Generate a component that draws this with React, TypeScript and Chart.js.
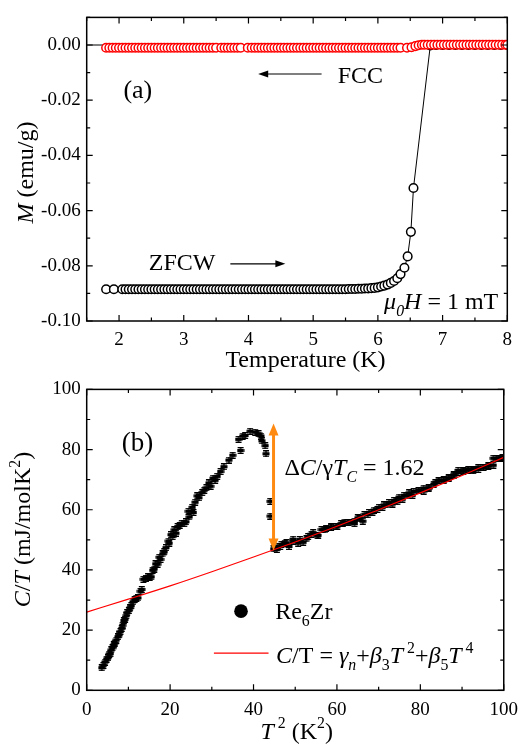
import React, { useEffect, useRef } from 'react';
import { Chart, registerables } from 'chart.js';
Chart.register(...registerables);

const FONT = '"Liberation Serif", "Times New Roman", serif';

// ---------- Panel (a): M vs T ----------
const FCC_T = [
  1.80, 1.85, 1.90, 1.95, 2.00, 2.05, 2.10, 2.15, 2.20, 2.25,
  2.30, 2.35, 2.40, 2.45, 2.50, 2.55, 2.60, 2.65, 2.70, 2.75,
  2.80, 2.85, 2.90, 2.95, 3.00, 3.05, 3.10, 3.15, 3.20, 3.25,
  3.30, 3.35, 3.40, 3.45, 3.50, 3.58, 3.63, 3.68, 3.73, 3.78,
  3.83, 3.88, 3.99, 4.05, 4.10, 4.15, 4.20, 4.25, 4.30, 4.35,
  4.40, 4.45, 4.50, 4.55, 4.60, 4.65, 4.70, 4.75, 4.80, 4.85,
  4.90, 4.95, 5.00, 5.05, 5.10, 5.15, 5.20, 5.25, 5.30, 5.35,
  5.40, 5.45, 5.50, 5.55, 5.60, 5.65, 5.70, 5.75, 5.80, 5.85,
  5.90, 5.95, 6.00, 6.05, 6.10, 6.15, 6.20, 6.25, 6.30, 6.35,
  6.45, 6.52, 6.58, 6.63, 6.68, 6.72, 6.77, 6.82, 6.87, 6.92,
  6.97, 7.02, 7.07, 7.12, 7.17, 7.22, 7.27, 7.32, 7.37, 7.42,
  7.47, 7.52, 7.57, 7.62, 7.67, 7.72, 7.77, 7.82, 7.87, 7.92,
  7.97, 8.00,
];
const FCC_M = [
  -0.0010, -0.0010, -0.0010, -0.0010, -0.0010, -0.0010, -0.0010, -0.0010, -0.0010, -0.0010,
  -0.0010, -0.0010, -0.0010, -0.0010, -0.0010, -0.0010, -0.0010, -0.0010, -0.0010, -0.0010,
  -0.0010, -0.0010, -0.0010, -0.0010, -0.0010, -0.0010, -0.0010, -0.0010, -0.0010, -0.0010,
  -0.0010, -0.0010, -0.0010, -0.0010, -0.0010, -0.0010, -0.0010, -0.0010, -0.0010, -0.0010,
  -0.0010, -0.0010, -0.0010, -0.0010, -0.0010, -0.0010, -0.0010, -0.0010, -0.0010, -0.0010,
  -0.0010, -0.0010, -0.0010, -0.0010, -0.0010, -0.0010, -0.0010, -0.0010, -0.0010, -0.0010,
  -0.0010, -0.0010, -0.0010, -0.0010, -0.0010, -0.0010, -0.0010, -0.0010, -0.0010, -0.0010,
  -0.0010, -0.0010, -0.0010, -0.0010, -0.0010, -0.0010, -0.0010, -0.0010, -0.0010, -0.0010,
  -0.0010, -0.0010, -0.0010, -0.0010, -0.0010, -0.0010, -0.0010, -0.0010, -0.0010, -0.0010,
  -0.0010, -0.0008, -0.0004, -0.0001, 0.0001, 0.0001, 0.0001, 0.0001, 0.0001, 0.0001,
  0.0001, 0.0001, 0.0001, 0.0001, 0.0001, 0.0001, 0.0001, 0.0001, 0.0001, 0.0001,
  0.0001, 0.0001, 0.0001, 0.0001, 0.0001, 0.0001, 0.0001, 0.0001, 0.0001, 0.0001,
  0.0001, 0.0001,
];
const ZFCW_T = [
  1.80, 1.92, 2.05, 2.10, 2.15, 2.20, 2.25, 2.30, 2.35, 2.40,
  2.45, 2.50, 2.55, 2.60, 2.65, 2.70, 2.75, 2.80, 2.85, 2.90,
  2.95, 3.00, 3.05, 3.10, 3.15, 3.20, 3.25, 3.30, 3.35, 3.40,
  3.45, 3.50, 3.55, 3.60, 3.65, 3.70, 3.75, 3.80, 3.85, 3.90,
  3.95, 4.00, 4.05, 4.10, 4.15, 4.20, 4.25, 4.30, 4.35, 4.40,
  4.45, 4.50, 4.55, 4.60, 4.65, 4.70, 4.75, 4.80, 4.85, 4.90,
  4.95, 5.00, 5.05, 5.10, 5.15, 5.20, 5.25, 5.30, 5.35, 5.40,
  5.45, 5.50, 5.55, 5.60, 5.65, 5.70, 5.75, 5.80, 5.85, 5.90,
  5.95, 6.00, 6.05, 6.10, 6.15, 6.20, 6.25, 6.30, 6.35, 6.41,
  6.46, 6.51, 6.55, 6.81, 6.90, 7.00, 7.10, 7.20, 7.30, 7.40,
  7.50, 7.60, 7.70, 7.80, 7.90, 8.00,
];
const ZFCW_M = [
  -0.0885, -0.0885, -0.0885, -0.0885, -0.0885, -0.0885, -0.0885, -0.0885, -0.0885, -0.0885,
  -0.0885, -0.0885, -0.0885, -0.0885, -0.0885, -0.0885, -0.0885, -0.0885, -0.0885, -0.0885,
  -0.0885, -0.0885, -0.0885, -0.0885, -0.0885, -0.0885, -0.0885, -0.0885, -0.0885, -0.0885,
  -0.0885, -0.0885, -0.0885, -0.0885, -0.0885, -0.0885, -0.0885, -0.0885, -0.0885, -0.0885,
  -0.0885, -0.0885, -0.0885, -0.0885, -0.0885, -0.0885, -0.0885, -0.0885, -0.0885, -0.0885,
  -0.0885, -0.0885, -0.0885, -0.0885, -0.0885, -0.0885, -0.0885, -0.0885, -0.0885, -0.0885,
  -0.0885, -0.0885, -0.0885, -0.0885, -0.0885, -0.0885, -0.0885, -0.0885, -0.0885, -0.0885,
  -0.0885, -0.0885, -0.0884, -0.0884, -0.0884, -0.0883, -0.0883, -0.0882, -0.0882, -0.0881,
  -0.0880, -0.0878, -0.0875, -0.0872, -0.0868, -0.0862, -0.0855, -0.0845, -0.0830, -0.0807,
  -0.0766, -0.0677, -0.0518, -0.0002, 0.0000, 0.0000, 0.0000, 0.0000, 0.0000, 0.0000,
  0.0000, 0.0000, 0.0000, 0.0000, 0.0000, 0.0000,
];

// ---------- Panel (b): C/T vs T^2 ----------
const CT_SC_X = [
  3.6, 4.0, 4.4, 4.75, 5.1, 5.4, 5.7, 5.9, 6.2, 6.5,
  6.7, 7.1, 7.5, 7.8, 8.1, 8.4, 8.6, 8.9, 9.2, 9.5,
  9.7, 10.1, 10.4, 10.7, 11.1, 11.5, 11.9, 12.3, 12.9, 13.2,
  13.6, 14.2, 14.7, 15.1, 15.5, 15.8, 16.2, 16.5, 17.0, 17.4,
  17.7, 18.2, 18.6, 19.0, 19.6, 19.8, 20.2, 20.6, 21.0, 21.4,
  21.8, 22.3, 22.8, 23.4, 23.8, 24.4, 24.6, 25.3, 25.6, 26.0,
  26.5, 26.9, 27.7, 28.2, 28.7, 29.3, 29.7, 30.3, 30.8, 31.3,
  32.1, 32.9, 34.1, 35.0, 36.4, 36.9, 37.4, 38.0, 39.2, 40.4,
  41.2, 41.8, 42.0, 42.8, 43.0, 44.0, 44.0, 44.8,
];
const CT_SC_Y = [
  7.5, 8.3, 9.4, 10.4, 10.8, 12.0, 12.2, 13.4, 14.1, 15.1,
  15.7, 16.7, 17.8, 18.4, 19.5, 20.6, 21.6, 23.2, 23.6, 24.8,
  25.8, 26.5, 27.4, 28.1, 29.4, 30.2, 30.6, 30.7, 32.9, 33.5,
  36.9, 37.2, 37.7, 37.6, 37.7, 39.9, 40.3, 42.0, 41.9, 44.2,
  43.5, 45.3, 46.0, 47.4, 49.6, 48.9, 51.7, 51.1, 53.3, 52.2,
  54.4, 54.8, 55.5, 55.4, 56.0, 59.5, 57.6, 60.8, 59.1, 62.5,
  64.6, 64.0, 65.7, 66.5, 67.3, 68.9, 67.8, 70.5, 69.8, 71.1,
  72.7, 74.3, 76.5, 78.1, 83.4, 79.7, 84.5, 84.7, 86.1, 85.8,
  85.3, 84.5, 82.9, 81.3, 78.6, 62.8, 57.9, 47.0,
];
const CT_N_X = [
  45.6, 46.4, 47.5, 48.5, 49.5, 50.7, 51.9, 53.1, 54.3, 55.3,
  56.3, 57.4, 58.6, 60.1, 61.0, 61.8, 63.0, 64.2, 65.4, 66.6,
  67.7, 68.9, 70.1, 71.3, 72.5, 73.7, 74.9, 76.1, 77.3, 78.4,
  79.6, 80.8, 82.0, 83.2, 84.4, 85.6, 86.8, 88.0, 89.1, 90.3,
  91.5, 92.7, 93.9, 95.1, 96.3, 97.5, 98.7, 99.7,
];
const CT_N_Y = [
  46.8, 47.8, 48.9, 47.8, 50.2, 48.9, 49.2, 51.1, 52.4, 51.3,
  53.4, 53.8, 54.3, 54.6, 55.4, 55.9, 55.6, 55.4, 57.0, 58.4,
  59.1, 59.9, 60.8, 61.6, 62.4, 63.1, 64.2, 64.8, 65.6, 66.1,
  66.3, 67.2, 67.2, 68.5, 69.6, 69.9, 70.6, 71.5, 73.1, 72.8,
  73.4, 73.4, 73.9, 74.2, 74.7, 77.1, 76.9, 77.4,
];
const CT_N2_X = [
  45.2, 46.7, 47.9, 49.5, 51.1, 52.7, 53.9, 55.5, 57.1, 58.6,
  59.8, 61.4, 62.6, 64.2, 65.0, 66.2, 67.4, 68.5, 69.7, 70.9,
  72.1, 73.3, 74.5, 75.7, 76.9, 78.1, 79.6, 80.8, 82.0, 83.6,
  84.4, 85.6, 86.8, 88.0, 89.1, 90.3, 91.5, 92.7, 93.9, 95.1,
  96.3, 97.5, 98.3, 99.5,
];
const CT_N2_Y = [
  47.9, 48.5, 49.0, 49.5, 50.1, 50.3, 51.9, 51.5, 53.3, 54.2,
  54.4, 55.5, 55.8, 56.2, 57.3, 56.2, 58.4, 59.2, 60.1, 60.8,
  61.6, 61.9, 62.7, 63.5, 64.6, 64.8, 66.5, 66.2, 67.3, 68.9,
  69.8, 69.7, 70.5, 71.6, 72.4, 73.0, 73.2, 73.0, 73.4, 74.1,
  74.5, 74.8, 77.0, 77.2,
];
const FIT_X = [0, 10, 20, 30, 40, 50, 60, 70, 80, 90, 100];
const FIT_Y = [26.0, 30.3, 34.7, 39.4, 44.3, 49.3, 54.5, 60.0, 65.6, 71.4, 77.4];

const JUMP_X = 44.8;
const JUMP_Y = [46.5, 88.7];

// ---------- helpers ----------
type Seg = { t: string; i?: boolean; sub?: boolean; sup?: boolean };

function segFont(size: number, s: Seg) {
  const sz = s.sub || s.sup ? size * 0.66 : size;
  return `${s.i ? 'italic ' : ''}${sz}px ${FONT}`;
}
function richWidth(ctx: CanvasRenderingContext2D, segs: Seg[], size: number) {
  let w = 0;
  for (const s of segs) {
    ctx.font = segFont(size, s);
    w += ctx.measureText(s.t).width;
  }
  return w;
}
function drawRich(ctx: CanvasRenderingContext2D, segs: Seg[], x: number, y: number, size: number, align: 'left' | 'center' | 'right') {
  const w = richWidth(ctx, segs, size);
  let cx = align === 'left' ? x : align === 'center' ? x - w / 2 : x - w;
  ctx.textAlign = 'left';
  ctx.textBaseline = 'alphabetic';
  ctx.fillStyle = '#000';
  for (const s of segs) {
    ctx.font = segFont(size, s);
    const dy = s.sub ? size * 0.3 : s.sup ? -size * 0.42 : 0;
    ctx.fillText(s.t, cx, y + dy);
    cx += ctx.measureText(s.t).width;
  }
}
function arrowHead(ctx: CanvasRenderingContext2D, x1: number, y1: number, x2: number, y2: number, len: number, wid: number) {
  const a = Math.atan2(y2 - y1, x2 - x1);
  const bx = x2 - len * Math.cos(a), by = y2 - len * Math.sin(a);
  ctx.beginPath();
  ctx.moveTo(x2, y2);
  ctx.lineTo(bx + (wid / 2) * Math.sin(a), by - (wid / 2) * Math.cos(a));
  ctx.lineTo(bx - (wid / 2) * Math.sin(a), by + (wid / 2) * Math.cos(a));
  ctx.closePath();
  ctx.fill();
}
function arrow(ctx: CanvasRenderingContext2D, x1: number, y1: number, x2: number, y2: number) {
  ctx.save();
  ctx.strokeStyle = '#000';
  ctx.fillStyle = '#000';
  ctx.lineWidth = 1.2;
  const a = Math.atan2(y2 - y1, x2 - x1);
  ctx.beginPath();
  ctx.moveTo(x1, y1);
  ctx.lineTo(x2 - 8 * Math.cos(a), y2 - 8 * Math.sin(a));
  ctx.stroke();
  arrowHead(ctx, x1, y1, x2, y2, 10, 7);
  ctx.restore();
}

const frameTicks = {
  id: 'frameTicks',
  afterDraw(chart: any) {
    const { ctx, chartArea: a, scales } = chart;
    const xs = scales.x, ys = scales.y;
    ctx.save();
    ctx.strokeStyle = '#000';
    ctx.lineWidth = 1.2;
    ctx.beginPath();
    for (const t of xs.ticks) {
      const p = xs.getPixelForValue(t.value);
      const len = t.label ? 6 : 3.5;
      ctx.moveTo(p, a.bottom); ctx.lineTo(p, a.bottom - len);
      ctx.moveTo(p, a.top); ctx.lineTo(p, a.top + len);
    }
    for (const t of ys.ticks) {
      const p = ys.getPixelForValue(t.value);
      const len = t.label ? 6 : 3.5;
      ctx.moveTo(a.left, p); ctx.lineTo(a.left + len, p);
      ctx.moveTo(a.right, p); ctx.lineTo(a.right - len, p);
    }
    ctx.stroke();
    ctx.lineWidth = 1.5;
    ctx.strokeRect(a.left, a.top, a.right - a.left, a.bottom - a.top);
    ctx.restore();
  },
};

function axisOpts(min: number, max: number, step: number, pad: number, isMajor: (v: number) => boolean, fmt: (v: number) => string, fit: (s: any) => void) {
  return {
    type: 'linear',
    min, max,
    afterFit: fit,
    grid: { display: false, drawTicks: false },
    border: { display: false },
    ticks: {
      stepSize: step,
      autoSkip: false,
      maxRotation: 0,
      padding: pad,
      color: '#000',
      font: { family: FONT, size: 19 },
      callback: (v: any) => (isMajor(Number(v)) ? fmt(Number(v)) : ''),
    },
  };
}

function topConfig(): any {
  const annot = {
    id: 'annotA',
    beforeDatasetsDraw(chart: any) {
      const { ctx, chartArea: a, scales } = chart;
      const y0 = scales.y.getPixelForValue(0);
      ctx.save();
      ctx.strokeStyle = '#000';
      ctx.lineWidth = 1;
      ctx.beginPath();
      ctx.moveTo(a.left, y0);
      ctx.lineTo(a.right, y0);
      ctx.stroke();
      ctx.restore();
    },
    afterDraw(chart: any) {
      const { ctx, scales } = chart;
      const X = (v: number) => scales.x.getPixelForValue(v);
      const Y = (v: number) => scales.y.getPixelForValue(v);
      ctx.save();
      drawRich(ctx, [{ t: '(a)' }], X(2.29), Y(-0.0193), 26, 'center');
      drawRich(ctx, [{ t: 'FCC' }], X(5.38), Y(-0.0139), 24, 'left');
      arrow(ctx, X(5.13), Y(-0.0105), X(4.15), Y(-0.0105));
      drawRich(ctx, [{ t: 'ZFCW' }], X(2.46), Y(-0.0817), 24, 'left');
      arrow(ctx, X(3.72), Y(-0.0793), X(4.57), Y(-0.0793));
      drawRich(ctx, [{ t: 'μ', i: true }, { t: '0', i: true, sub: true }, { t: 'H', i: true }, { t: ' = 1 mT' }], X(7.86), Y(-0.0955), 24, 'right');
      drawRich(ctx, [{ t: 'Temperature (K)' }], 305.5, 366.5, 24, 'center');
      ctx.translate(33.3, 172.5);
      ctx.rotate(-Math.PI / 2);
      drawRich(ctx, [{ t: 'M', i: true }, { t: ' (emu/g)' }], 0, 0, 24, 'center');
      ctx.restore();
    },
  };
  return {
    type: 'scatter',
    data: {
      datasets: [
        {
          label: 'FCC',
          data: FCC_T.map((t, i) => ({ x: t, y: FCC_M[i] })),
          showLine: true,
          borderColor: '#ff0000',
          borderWidth: 1,
          pointRadius: 4.3,
          pointBorderWidth: 1.5,
          pointBorderColor: '#ff0000',
          pointBackgroundColor: '#ffffff',
        },
        {
          label: 'ZFCW',
          data: ZFCW_T.map((t, i) => ({ x: t, y: ZFCW_M[i] })),
          showLine: true,
          borderColor: '#000000',
          borderWidth: 1,
          pointRadius: 4.3,
          pointBorderWidth: 1.5,
          pointBorderColor: '#000000',
          pointBackgroundColor: '#ffffff',
        },
      ],
    },
    options: {
      responsive: false,
      animation: false,
      devicePixelRatio: 1,
      layout: { padding: { left: 0, right: 18.7, top: 10.7, bottom: 0 } },
      plugins: { legend: { display: false }, tooltip: { enabled: false } },
      scales: {
        x: axisOpts(1.5, 8, 0.5, 8, (v) => Math.abs(v - Math.round(v)) < 1e-6, (v) => String(Math.round(v)), (s: any) => { s.height = 51; }),
        y: axisOpts(-0.1, 0.01, 0.01, 6, (v) => Math.round(v * 100) % 2 === 0, (v) => (Math.round(v * 100) / 100).toFixed(2).replace('-0.00', '0.00'), (s: any) => { s.width = 86.7; }),
      },
    },
    plugins: [frameTicks, annot],
  };
}

function makeMarker(): HTMLCanvasElement {
  const c = document.createElement('canvas');
  c.width = 8;
  c.height = 7;
  const g = c.getContext('2d')!;
  g.fillStyle = '#000';
  g.fillRect(1, 0, 6, 1.3);
  g.fillRect(1, 5.7, 6, 1.3);
  g.fillRect(0.5, 2, 7, 3);
  g.fillRect(3.3, 0, 1.4, 7);
  return c;
}

function bottomConfig(): any {
  const annot = {
    id: 'annotB',
    afterDraw(chart: any) {
      const { ctx, scales } = chart;
      const X = (v: number) => scales.x.getPixelForValue(v);
      const Y = (v: number) => scales.y.getPixelForValue(v);
      ctx.save();
      const xa = X(JUMP_X), yb = Y(JUMP_Y[0]), yt = Y(JUMP_Y[1]);
      ctx.strokeStyle = '#ff8a12';
      ctx.fillStyle = '#ff8a12';
      ctx.lineWidth = 3;
      ctx.beginPath();
      ctx.moveTo(xa, yt + 10);
      ctx.lineTo(xa, yb - 10);
      ctx.stroke();
      arrowHead(ctx, xa, yb, xa, yt, 12, 10);
      arrowHead(ctx, xa, yt, xa, yb, 12, 10);
      drawRich(ctx, [{ t: '(b)' }], X(12.2), Y(79.5), 27, 'center');
      drawRich(ctx, [{ t: 'Δ' }, { t: 'C', i: true }, { t: '/γ' }, { t: 'T', i: true }, { t: 'C', i: true, sub: true }, { t: ' = 1.62' }], X(47.4), Y(71.5), 24, 'left');
      ctx.fillStyle = '#000';
      ctx.beginPath();
      ctx.arc(X(37.0), Y(26.3), 6.8, 0, Math.PI * 2);
      ctx.fill();
      drawRich(ctx, [{ t: 'Re' }, { t: '6', sub: true }, { t: 'Zr' }], X(45.2), Y(23.6), 24, 'left');
      ctx.strokeStyle = '#ff0000';
      ctx.lineWidth = 1.2;
      ctx.beginPath();
      ctx.moveTo(X(30.5), Y(12.35));
      ctx.lineTo(X(43.6), Y(12.35));
      ctx.stroke();
      drawRich(ctx, [
        { t: 'C', i: true }, { t: '/T = ' }, { t: 'γ', i: true }, { t: 'n', i: true, sub: true }, { t: '+' },
        { t: 'β', i: true }, { t: '3', sub: true }, { t: 'T', i: true }, { t: ' 2', sup: true }, { t: '+' },
        { t: 'β', i: true }, { t: '5', sub: true }, { t: 'T', i: true }, { t: ' 4', sup: true },
      ], X(45.4), Y(9.14), 24, 'left');
      drawRich(ctx, [{ t: 'T', i: true }, { t: ' 2', sup: true }, { t: ' (K' }, { t: '2', sup: true }, { t: ')' }], 296.7, 366.5, 24, 'center');
      ctx.translate(30, 157.5);
      ctx.rotate(-Math.PI / 2);
      drawRich(ctx, [{ t: 'C', i: true }, { t: '/' }, { t: 'T', i: true }, { t: ' (mJ/molK' }, { t: '2', sup: true }, { t: ')' }], 0, 0, 24, 'center');
      ctx.restore();
    },
  };
  const marker = makeMarker();
  return {
    type: 'scatter',
    data: {
      datasets: [
        {
          label: 'fit',
          data: FIT_X.map((x, i) => ({ x, y: FIT_Y[i] })),
          showLine: true,
          borderColor: '#ff0000',
          borderWidth: 1.2,
          pointRadius: 0,
          cubicInterpolationMode: 'monotone',
        },
        {
          label: 'Re6Zr',
          data: [
            ...CT_SC_X.map((x, i) => ({ x, y: CT_SC_Y[i] })),
            ...CT_N_X.map((x, i) => ({ x, y: CT_N_Y[i] })),
            ...CT_N2_X.map((x, i) => ({ x, y: CT_N2_Y[i] })),
          ],
          showLine: false,
          pointStyle: marker,
          pointRadius: 4,
        },
      ],
    },
    options: {
      responsive: false,
      animation: false,
      devicePixelRatio: 1,
      layout: { padding: { left: 0, right: 18.7, top: 8.3, bottom: 0 } },
      plugins: { legend: { display: false }, tooltip: { enabled: false } },
      scales: {
        x: axisOpts(0, 100, 10, 8, (v) => Math.round(v) % 20 === 0, (v) => String(Math.round(v)), (s: any) => { s.height = 53.7; }),
        y: axisOpts(0, 100, 10, 6, (v) => Math.round(v) % 20 === 0, (v) => String(Math.round(v)), (s: any) => { s.width = 86.7; }),
      },
    },
    plugins: [frameTicks, annot],
  };
}

export default function App() {
  const topRef = useRef<HTMLCanvasElement>(null);
  const botRef = useRef<HTMLCanvasElement>(null);
  useEffect(() => {
    const c1 = new Chart(topRef.current!, topConfig());
    const c2 = new Chart(botRef.current!, bottomConfig());
    return () => {
      c1.destroy();
      c2.destroy();
    };
  }, []);
  return (
    <div style={{ position: 'absolute', left: 0, top: 0, width: 526, height: 744, background: '#fff' }}>
      <canvas ref={topRef} width={526} height={372} style={{ position: 'absolute', left: 0, top: 0 }} />
      <canvas ref={botRef} width={526} height={372} style={{ position: 'absolute', left: 0, top: 372 }} />
    </div>
  );
}
